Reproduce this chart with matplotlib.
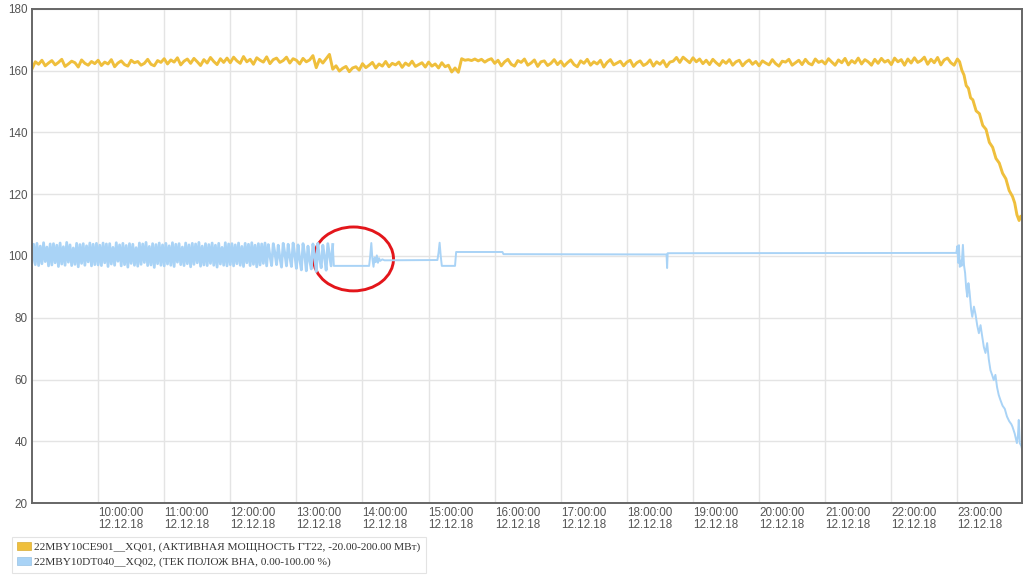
import matplotlib
matplotlib.use("Agg")
import matplotlib.pyplot as plt
from matplotlib.patches import Ellipse, Patch
from matplotlib.transforms import ScaledTranslation
import numpy as np

# Active power GT22, one value every 3 min from 09:00 (rows = one hour each)
power_steady = [
    160.6, 162.9, 162.1, 163.4, 161.6, 162.5, 163.3, 161.9, 162.7, 163.7, 161.4, 162.2, 163.1, 162.6, 161.2, 163.5, 162.4, 161.8, 163.0, 162.3,  # 09
    163.4, 161.7, 162.8, 162.2, 163.6, 161.3, 162.5, 163.2, 162.0, 161.5, 163.4, 162.6, 163.0, 161.8, 162.4, 163.7, 162.1, 161.6, 163.3, 162.7,  # 10
    163.9, 162.2, 163.5, 162.8, 164.2, 161.9, 163.1, 163.8, 162.4, 164.0, 162.9, 161.7, 163.6, 162.5, 164.3, 163.0, 162.0, 163.9, 162.7, 164.1,  # 11
    162.6, 164.4, 163.2, 162.4, 164.6, 162.9, 163.7, 162.1, 164.2, 163.4, 162.8, 164.5, 162.3, 163.6, 164.1, 162.7, 163.3, 164.4, 162.5, 163.9,  # 12
    163.4, 162.2, 164.0, 162.9, 163.5, 164.9, 161.0, 163.7, 162.5, 163.9, 165.3, 160.5, 161.6, 159.9, 160.8, 161.4, 159.7, 160.9, 161.3, 160.2,  # 13
    162.3, 161.0, 161.8, 162.7, 160.9, 162.2, 161.5, 163.0, 161.3, 162.4, 161.9, 162.8, 161.1, 162.5, 161.7, 163.1, 161.4, 162.0, 162.6, 161.2,  # 14
    162.8, 161.5, 162.2, 160.9, 162.6, 161.3, 161.8, 159.6, 160.9, 159.5, 163.9, 163.4, 163.6, 163.3, 163.8, 163.2, 163.7, 162.8, 163.5, 163.9,  # 15
    162.4, 163.4, 161.6, 162.9, 163.7, 162.1, 161.5, 163.3, 162.7, 163.8, 161.8, 162.5, 163.5, 161.4, 162.9, 163.2, 161.7, 162.4, 163.6, 162.0,  # 16
    163.1, 161.5, 162.6, 163.5, 162.0, 161.3, 163.2, 162.4, 163.7, 161.8, 162.9, 162.2, 163.4, 161.2, 162.7, 163.6, 161.9, 162.5, 163.1, 161.6,  # 17
    162.8, 163.4, 161.4, 162.6, 163.2, 161.7, 162.3, 163.5, 161.5, 162.9, 162.1, 163.3, 161.3, 162.8, 163.1, 164.3, 162.7, 164.4, 163.5, 162.6,  # 18
    164.2, 162.9, 163.8, 162.3, 163.4, 162.0, 163.7, 162.6, 161.7, 163.3, 162.4, 163.6, 161.8, 162.9, 163.4, 161.6, 162.8, 163.5, 162.1, 163.0,  # 19
    161.6, 163.2, 162.5, 161.9, 163.6, 162.3, 161.5, 163.1, 162.8, 163.7, 161.8, 162.6, 163.4, 162.0, 163.7, 162.4, 161.9, 163.8, 162.7, 163.2,  # 20
    162.2, 163.9, 162.8, 161.8, 163.5, 162.6, 164.0, 161.9, 163.3, 162.5, 164.1, 162.2, 163.6, 162.9, 161.8, 163.7, 162.4, 164.0, 162.8, 163.4,  # 21
    162.0, 164.1, 162.9, 163.6, 161.8, 163.8, 162.5, 164.2, 162.7, 163.3, 164.4, 162.1, 163.7, 162.6, 164.3, 161.9, 163.5, 164.1, 162.6, 161.8,  # 22
    163.8,
]
# unloading after 23:00 (minutes after 23:00)
power_drop_min = [2, 4, 6, 8, 10, 12, 14, 17, 20, 23, 26, 29, 32, 35, 38, 41, 44, 47, 50, 52, 54, 56, 57.5, 59]
power_drop_val = [162.9, 160.2, 158.6, 155.2, 154.3, 151.2, 150.6, 147.0, 146.1, 142.3, 141.0, 136.8,
                  135.2, 131.6, 130.1, 126.8, 125.0, 121.2, 119.3, 117.2, 113.4, 111.5, 112.9, 111.8]

# IGV position, every 1.5 min from 09:00 to 13:33 (hunting)
vna_osc = [
    98.0, 103.8, 97.2, 104.1, 96.9, 103.2, 97.5, 104.3, 98.2, 102.9, 96.8, 103.9, 97.1, 104.0, 97.8, 103.5, 96.6, 104.2, 97.4, 103.0,
    97.0, 104.4, 98.0, 103.6, 96.9, 102.6, 97.3, 104.1, 96.5, 103.7, 97.6, 104.0, 97.0, 103.3, 98.1, 104.2, 96.8, 103.8, 97.2, 104.1,  # 09
    97.1, 103.5, 96.9, 104.2, 97.8, 103.9, 96.6, 104.0, 97.4, 102.8, 97.0, 104.3, 98.3, 103.6, 96.8, 104.1, 97.2, 103.4, 96.4, 104.0,
    97.6, 103.8, 97.0, 102.7, 96.7, 104.2, 97.3, 103.9, 97.9, 104.4, 96.9, 103.1, 97.1, 104.0, 96.3, 103.7, 97.5, 104.2, 97.0, 103.6,  # 10
    96.8, 104.1, 97.4, 103.3, 97.0, 104.3, 96.6, 103.8, 98.0, 104.0, 97.2, 102.9, 96.9, 104.2, 97.5, 103.6, 96.5, 104.1, 97.3, 103.9,
    97.8, 104.4, 96.7, 103.2, 97.1, 104.0, 96.9, 103.7, 97.6, 104.2, 97.0, 103.5, 96.4, 104.1, 97.4, 102.8, 97.0, 104.3, 96.8, 103.9,  # 11
    97.2, 104.0, 96.8, 103.6, 97.5, 104.2, 97.0, 103.1, 96.6, 104.1, 97.8, 103.8, 96.9, 104.3, 97.3, 103.5, 96.5, 104.0, 97.1, 103.9,
    97.6, 104.2, 96.8, 103.7, 100.0, 96.9, 104.0, 101.0, 97.2, 103.5, 99.5, 96.4, 104.1, 100.8, 96.8, 103.8, 99.8, 96.6, 104.2, 100.5,  # 12
    96.0, 103.6, 99.0, 95.5, 104.0, 100.5, 95.2, 103.2, 98.6, 95.8, 103.9, 100.0, 95.0, 104.1, 99.2, 96.2, 103.5, 99.8, 95.4, 104.0,
    100.3, 96.8, 103.7,  # 13
]
vna_tail_t = [
    "13:34", "14:06", "14:07", "14:08", "14:09", "14:10", "14:11", "14:12", "14:13", "14:14", "14:15", "14:16", "14:18", "14:20",
    "15:08", "15:09", "15:10", "15:11", "15:12", "15:24", "15:25", "16:07", "16:08", "18:36", "18:36.5", "18:37", "22:59",
    "23:00", "23:00.7", "23:01.4", "23:02.2", "23:03", "23:03.8", "23:05", "23:06", "23:07", "23:08", "23:09", "23:10", "23:11",
    "23:12.5", "23:13.5", "23:15", "23:16.5", "23:18", "23:19.5", "23:21", "23:22.5", "23:24", "23:25.5", "23:27", "23:28.5",
    "23:30", "23:31.5", "23:33", "23:34.5", "23:36", "23:37.5", "23:39", "23:41", "23:43", "23:45", "23:47", "23:49", "23:50",
    "23:52", "23:54", "23:55", "23:55.7", "23:56.6", "23:58", "23:59.7",
]
vna_tail_v = [
    96.8, 96.8, 100.0, 104.2, 99.0, 96.5, 99.5, 98.0, 100.2, 97.8, 99.3, 98.4, 98.9, 98.6,
    98.7, 101.0, 104.3, 100.0, 96.8, 96.8, 101.3, 101.3, 100.6, 100.5, 96.1, 100.9, 101.0,
    103.2, 97.8, 103.5, 96.5, 98.5, 96.8, 103.6, 97.0, 94.5, 89.5, 86.8, 91.2, 88.5,
    82.5, 80.3, 83.6, 81.0, 77.5, 75.0, 77.6, 74.0, 70.5, 68.6, 71.8, 66.5,
    63.0, 61.5, 59.8, 61.5, 57.5, 55.0, 53.4, 51.5, 50.5, 48.0, 46.5, 45.5, 44.7,
    42.5, 39.4, 42.0, 46.9, 39.4, 38.5, 36.0,
]

hour_ticks = list(range(10, 24))
date_label = "12.12.18"
legend_labels = [
    "22MBY10CE901__XQ01, (АКТИВНАЯ МОЩНОСТЬ ГТ22, -20.00-200.00 МВт)",
    "22MBY10DT040__XQ02, (ТЕК ПОЛОЖ ВНА, 0.00-100.00 %)",
]
# red mark drawn on the screenshot (time in h, value, width in h, height)
mark = (13.864, 99.05, 1.21, 20.7)

YELLOW = "#efbf3c"
BLUE = "#a9d3f6"


def hours(s):
    h, m = s.split(":")
    return int(h) + float(m) / 60


t_power = np.concatenate([9 + np.arange(len(power_steady)) * 3 / 60,
                          23 + np.array(power_drop_min) / 60])
v_power = np.concatenate([power_steady, power_drop_val])
t_osc = 9 + np.arange(len(vna_osc)) * 1.5 / 60
t_tail = np.concatenate([t_osc[-1:], [hours(s) for s in vna_tail_t]])
v_tail = np.concatenate([vna_osc[-1:], vna_tail_v])

fig = plt.figure(figsize=(10.24, 5.81), dpi=100)
ax = fig.add_axes([32 / 1024, 1 - 503 / 581, 990 / 1024, 494 / 581])

ax.plot(t_power, v_power, color=YELLOW, lw=2.1, solid_joinstyle="round")
ax.plot(t_osc, vna_osc, color=BLUE, lw=2.0, solid_joinstyle="round")
ax.plot(t_tail, v_tail, color=BLUE, lw=1.4, solid_joinstyle="round")

ax.add_patch(Ellipse((mark[0], mark[1]), mark[2], mark[3], fill=False, ec="#e3161b", lw=2.1))

ax.set_xlim(9, 9 + 990 / 66.1)
ax.set_ylim(20, 180)
ax.set_yticks(range(20, 181, 20))
ax.set_xticks(hour_ticks)
ax.set_xticklabels([f"{h}:00:00\n{date_label}" for h in hour_ticks],
                   ha="left", linespacing=1.0, fontfamily="Liberation Sans", fontsize=8.4, color="#555555")
shift = ScaledTranslation(-3 / 100, 0, fig.dpi_scale_trans)
for lab in ax.get_xticklabels():
    lab.set_transform(lab.get_transform() + shift)
for lab in ax.get_yticklabels():
    lab.set_fontfamily("Liberation Sans")
    lab.set_fontsize(8.4)
    lab.set_color("#555555")
ax.tick_params(axis="both", length=0)
ax.tick_params(axis="x", pad=3)
ax.tick_params(axis="y", pad=3)
ax.grid(True, color="#e4e4e4", lw=1)
ax.set_axisbelow(True)
for sp in ax.spines.values():
    sp.set_color("#666666")
    sp.set_linewidth(1.4)

handles = [Patch(facecolor=YELLOW, edgecolor="#d9ad35", lw=0.5),
           Patch(facecolor=BLUE, edgecolor="#98c2e4", lw=0.5)]
leg = fig.legend(handles, legend_labels, loc="upper left",
                 bbox_to_anchor=(11.7 / 1024, 1 - 536.7 / 581), borderaxespad=0,
                 prop={"family": "Liberation Serif", "size": 8.2},
                 handlelength=1.25, handleheight=0.7, handletextpad=0.3,
                 labelspacing=0.45, borderpad=0.45, fancybox=False, frameon=True)
leg.get_frame().set_edgecolor("#dddddd")
leg.get_frame().set_linewidth(0.8)
for txt in leg.get_texts():
    txt.set_color("#333333")

fig.savefig("out.png", dpi=100)
